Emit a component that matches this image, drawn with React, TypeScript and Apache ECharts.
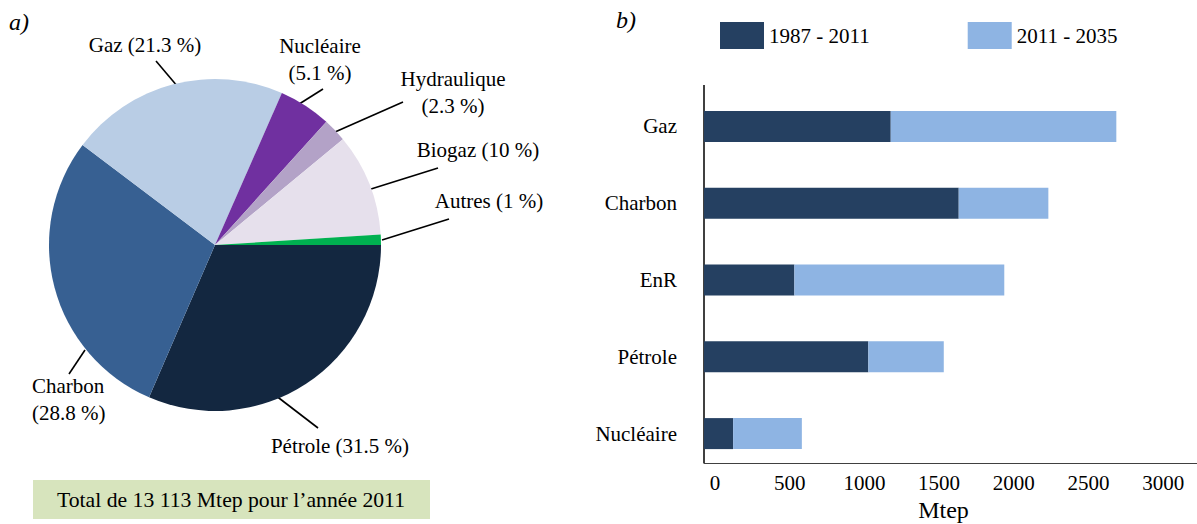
import React, { useEffect, useRef } from "react";
import * as echarts from "echarts";

// ---- Data ----
const PIE_NAMES = ["Pétrole", "Charbon", "Gaz", "Nucléaire", "Hydraulique", "Biogaz", "Autres"];
const PIE_VALUES = [31.5, 28.8, 21.3, 5.1, 2.3, 10, 1];
const PIE_COLORS = ["#132740", "#376092", "#B9CDE5", "#7030A0", "#B3A2C7", "#E6E0EC", "#00B050"];

const BAR_CATEGORIES = ["Gaz", "Charbon", "EnR", "Pétrole", "Nucléaire"];
const SERIES_NAMES = ["1987 - 2011", "2011 - 2035"];
const VALUES_1987_2011 = [1250, 1705, 605, 1100, 195];
const VALUES_2011_2035 = [1510, 600, 1405, 505, 460];

const TOTAL_TEXT = "Total de 13 113 Mtep pour l’année 2011";

// ---- Layout of pie labels (positions of annotation text and leader lines) ----
type LabelSpec = { x: number; y: number; align: "left" | "center"; twoLines: boolean; p0: number[]; p1: number[] };
const PIE_LABEL_LAYOUT: LabelSpec[] = [
  { x: 340, y: 446, align: "center", twoLines: false, p0: [275, 395], p1: [318, 428] },
  { x: 32, y: 399, align: "left", twoLines: true, p0: [85, 350], p1: [69, 374] },
  { x: 145, y: 45, align: "center", twoLines: false, p0: [178, 87], p1: [156, 61] },
  { x: 320, y: 59, align: "center", twoLines: true, p0: [296, 106], p1: [323, 89] },
  { x: 453, y: 92, align: "center", twoLines: true, p0: [335, 132], p1: [403, 102] },
  { x: 478, y: 150, align: "center", twoLines: false, p0: [371, 189], p1: [438, 168] },
  { x: 489, y: 201, align: "center", twoLines: false, p0: [382, 240], p1: [449, 219] },
];

const FONT = "Liberation Serif";

export default function App() {
  const ref = useRef<HTMLDivElement>(null);

  useEffect(() => {
    if (!ref.current) return;
    const chart = echarts.init(ref.current, null, { renderer: "svg" });

    const option: any = {
      animation: false,
      textStyle: { fontFamily: FONT, color: "#000" },
      legend: {
        data: SERIES_NAMES,
        left: 720,
        top: 22,
        padding: 0,
        icon: "rect",
        itemWidth: 44,
        itemHeight: 27,
        itemGap: 98,
        textStyle: { fontFamily: FONT, fontSize: 21, color: "#000" },
      },
      grid: { left: 704, top: 88, height: 384, right: 0, outerBoundsMode: "none", containLabel: false },
      xAxis: {
        type: "value",
        min: 0,
        max: 3300,
        interval: 500,
        offset: -9,
        axisLine: { show: true, lineStyle: { color: "#404040", width: 1.2 } },
        axisTick: { show: false },
        splitLine: { show: false },
        axisLabel: {
          showMaxLabel: false,
          fontFamily: FONT,
          fontSize: 21,
          color: "#000",
          margin: 9,
          padding: [0, 0, 0, 22],
          formatter: (v: number) => String(v),
        },
        name: "Mtep",
        nameLocation: "middle",
        nameGap: 35,
        nameTextStyle: { fontFamily: FONT, fontSize: 24, color: "#000", padding: [0, 14, 0, 0] },
      },
      yAxis: {
        type: "category",
        data: BAR_CATEGORIES,
        inverse: true,
        axisLine: { show: false },
        axisTick: { show: false },
        axisLabel: {
          fontFamily: FONT,
          fontSize: 21,
          color: "#000",
          margin: 27,
        },
      },
      series: [
        {
          type: "bar",
          name: SERIES_NAMES[0],
          stack: "total",
          data: VALUES_1987_2011,
          barWidth: 31,
          itemStyle: { color: "#254061" },
        },
        {
          type: "bar",
          name: SERIES_NAMES[1],
          stack: "total",
          data: VALUES_2011_2035,
          barWidth: 31,
          itemStyle: { color: "#8EB4E3" },
        },
        {
          type: "pie",
          center: [215, 245],
          radius: 166,
          startAngle: 0,
          clockwise: true,
          data: PIE_NAMES.map((n, i) => ({ name: n, value: PIE_VALUES[i], itemStyle: { color: PIE_COLORS[i] } })),
          itemStyle: { borderWidth: 0 },
          label: {
            show: true,
            position: "outside",
            overflow: "none",
            fontFamily: FONT,
            fontSize: 21,
            lineHeight: 27,
            color: "#000",
            rich: { t: { fontFamily: FONT, fontSize: 21, lineHeight: 27, color: "#000" } },
            formatter: (p: any) =>
              PIE_LABEL_LAYOUT[p.dataIndex].twoLines
                ? `{t|${p.name}}\n{t|(${p.value} %)}`
                : `{t|${p.name} (${p.value} %)}`,
          },
          labelLine: { show: true, lineStyle: { color: "#000", width: 1.6 } },
          labelLayout: (params: any) => {
            const L = PIE_LABEL_LAYOUT[params.dataIndex];
            const mid = [(L.p0[0] + L.p1[0]) / 2, (L.p0[1] + L.p1[1]) / 2];
            return {
              x: L.x,
              y: L.y,
              align: L.align,
              verticalAlign: "middle",
              labelLinePoints: [L.p0, mid, L.p1],
            };
          },
          emphasis: { disabled: true },
        },
      ],
      graphic: [
        { type: "text", left: 9, top: 10, style: { text: "a)", font: `italic 24px ${FONT}`, fill: "#000" } },
        { type: "text", left: 616, top: 8, style: { text: "b)", font: `italic 24px ${FONT}`, fill: "#000" } },
        { type: "line", shape: { x1: 704, y1: 85, x2: 704, y2: 463 }, style: { stroke: "#000", lineWidth: 1.5 } },
        {
          type: "rect",
          shape: { x: 33, y: 480, width: 397, height: 39 },
          style: { fill: "#D7E4BD" },
        },
        {
          type: "text",
          x: 231,
          y: 500,
          style: {
            text: TOTAL_TEXT,
            font: `21.7px ${FONT}`,
            fill: "#000",
            align: "center",
            verticalAlign: "middle",
          },
        },
      ],
    };

    chart.setOption(option);
    return () => chart.dispose();
  }, []);

  return <div ref={ref} style={{ position: "absolute", left: 0, top: 0, width: 1197, height: 524 }} />;
}
